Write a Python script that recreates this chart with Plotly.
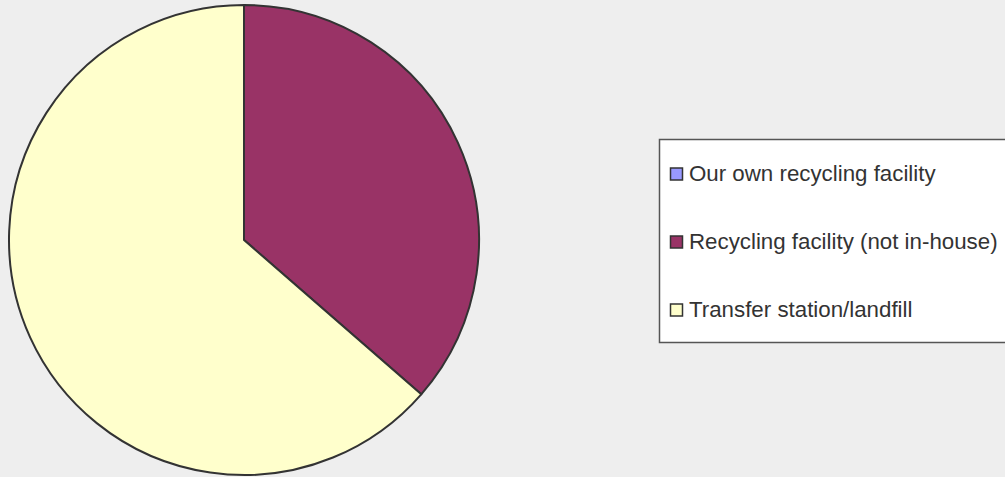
import plotly.graph_objects as go

W, H = 1005, 477

labels = ["Our own recycling facility", "Recycling facility (not in-house)", "Transfer station/landfill"]
values = [0, 36.4, 63.6]
colors = ["#9999FF", "#993366", "#FFFFCC"]

def px(x):
    return x / W

def py(y):
    return 1 - y / H

fig = go.Figure()
fig.add_trace(go.Pie(
    labels=labels,
    values=values,
    sort=False,
    direction="clockwise",
    rotation=0,
    textinfo="none",
    hoverinfo="label+percent",
    marker=dict(colors=colors, line=dict(color="#333333", width=2)),
    domain=dict(x=[px(9), px(479)], y=[py(475), py(5)]),
    showlegend=False,
))

shapes = []
annotations = []
# legend frame
shapes.append(dict(type="rect", xref="paper", yref="paper",
                   x0=px(659.5), x1=px(1010), y0=py(342.5), y1=py(139.5),
                   line=dict(color="#555555", width=1.5), fillcolor="#FFFFFF", layer="below"))
row_y = [173, 241, 309]
for lab, col, ry in zip(labels, colors, row_y):
    shapes.append(dict(type="rect", xref="paper", yref="paper",
                       x0=px(670.5), x1=px(682.5), y0=py(ry + 7), y1=py(ry - 5),
                       line=dict(color="#333333", width=1.5), fillcolor=col))
    annotations.append(dict(x=px(687), y=py(ry), xref="paper", yref="paper",
                            text=lab, showarrow=False, xanchor="left", yanchor="middle",
                            font=dict(family="Liberation Sans, Arial, sans-serif", size=22.3, color="#333333")))

fig.update_layout(
    width=W, height=H,
    margin=dict(l=0, r=0, t=0, b=0),
    paper_bgcolor="#EEEEEE",
    plot_bgcolor="#EEEEEE",
    shapes=shapes,
    annotations=annotations,
    showlegend=False,
)

fig.write_html("out.html", config={"displayModeBar": False},
               post_script="document.body.style.margin='0';document.body.style.overflow='hidden';")
